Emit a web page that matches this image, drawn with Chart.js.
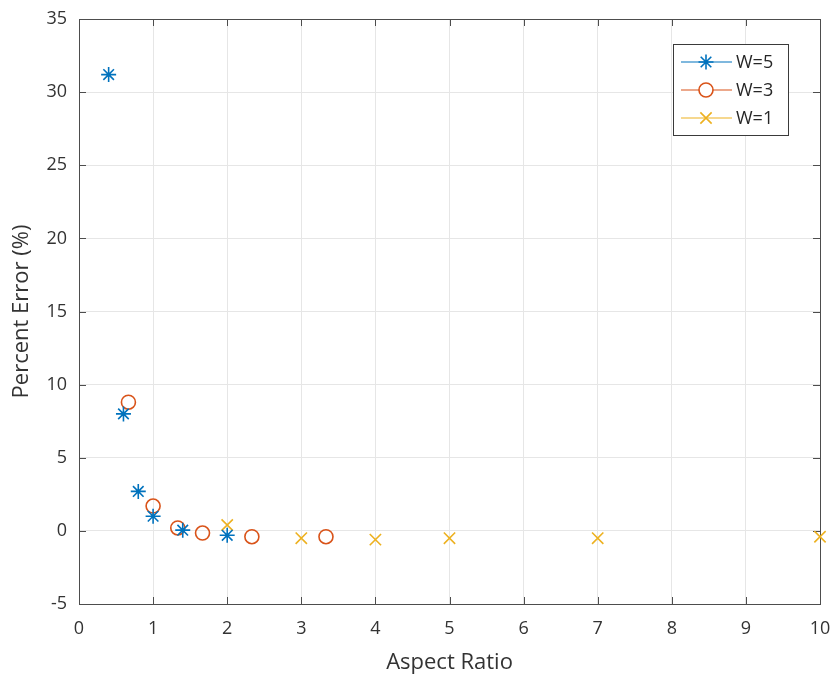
<!DOCTYPE html>
<html>
<head>
<meta charset="utf-8">
<script src="https://cdn.jsdelivr.net/npm/chart.js@4.4.1/dist/chart.umd.min.js"></script>
<style>
  html, body { margin: 0; padding: 0; background: #fff; }
  #wrap { width: 834px; height: 681px; }
</style>
</head>
<body>
<div id="wrap"><canvas id="chart"></canvas></div>
<script>
const aspectW5 = [0.4, 0.6, 0.8, 1.0, 1.4, 2.0];
const errorW5 = [31.2, 8.0, 2.7, 1.0, 0.05, -0.3];
const aspectW3 = [0.667, 1.0, 1.333, 1.667, 2.333, 3.333];
const errorW3 = [8.8, 1.7, 0.2, -0.15, -0.4, -0.4];
const aspectW1 = [2, 3, 4, 5, 7, 10];
const errorW1 = [0.4, -0.5, -0.6, -0.5, -0.5, -0.4];

const seriesNames = ["W=5", "W=3", "W=1"];
const colors = ["#0072BD", "#D95319", "#EDB120"];
const markers = ["star", "circle", "crossRot"];
const markerSizes = [7.5, 7, 8];

const toPoints = (xs, ys) => xs.map((x, i) => ({ x, y: ys[i] }));
const allData = [toPoints(aspectW5, errorW5), toPoints(aspectW3, errorW3), toPoints(aspectW1, errorW1)];

const axisColor = "#4d4d4d";
const tickFont = { family: "Open Sans", size: 18 };
const titleFont = { family: "Open Sans", size: 22 };

// box, inward ticks and legend drawn like a matlab figure
const matlabAxes = {
  id: "matlabAxes",
  beforeDatasetsDraw(chart) {
    const { ctx, chartArea: a, scales } = chart;
    ctx.save();
    ctx.strokeStyle = axisColor;
    ctx.lineWidth = 1;
    ctx.beginPath();
    scales.x.ticks.forEach(t => {
      const px = Math.round(scales.x.getPixelForValue(t.value)) + 0.5;
      ctx.moveTo(px, a.bottom); ctx.lineTo(px, a.bottom - 7);
      ctx.moveTo(px, a.top); ctx.lineTo(px, a.top + 7);
    });
    scales.y.ticks.forEach(t => {
      const py = Math.round(scales.y.getPixelForValue(t.value)) + 0.5;
      ctx.moveTo(a.left, py); ctx.lineTo(a.left + 7, py);
      ctx.moveTo(a.right, py); ctx.lineTo(a.right - 7, py);
    });
    ctx.stroke();
    ctx.strokeRect(Math.round(a.left) + 0.5, Math.round(a.top) + 0.5,
      Math.round(a.right - a.left), Math.round(a.bottom - a.top));
    ctx.restore();
  },
  afterDraw(chart) {
    const { ctx, chartArea: a } = chart;
    const bx = a.right - 147, by = a.top + 25, bw = 115, bh = 91;
    ctx.save();
    ctx.fillStyle = "#fff";
    ctx.fillRect(bx, by, bw, bh);
    ctx.strokeStyle = "#3a3a3a";
    ctx.lineWidth = 1;
    ctx.strokeRect(Math.round(bx) + 0.5, Math.round(by) + 0.5, bw, bh);
    ctx.font = "18px 'Open Sans'";
    ctx.textBaseline = "middle";
    seriesNames.forEach((name, i) => {
      const y = by + 18 + i * 28;
      ctx.strokeStyle = colors[i];
      ctx.lineWidth = 1.2;
      ctx.beginPath();
      ctx.moveTo(bx + 8, y); ctx.lineTo(bx + 59, y);
      ctx.stroke();
      ctx.fillStyle = "#fff";
      ctx.lineWidth = 1.6;
      Chart.helpers.drawPoint(ctx, { pointStyle: markers[i], radius: markerSizes[i], borderWidth: 1.6, rotation: 0 }, bx + 33, y);
      ctx.fillStyle = "#262626";
      ctx.fillText(name, bx + 63, y + 1);
    });
    ctx.restore();
  }
};

new Chart(document.getElementById("chart"), {
  type: "scatter",
  data: {
    datasets: allData.map((pts, i) => ({
      label: seriesNames[i],
      data: pts,
      pointStyle: markers[i],
      pointRadius: markerSizes[i],
      borderColor: colors[i],
      backgroundColor: "rgba(0,0,0,0)",
      borderWidth: 1.6,
      showLine: false,
      clip: false
    }))
  },
  options: {
    responsive: true,
    maintainAspectRatio: false,
    animation: false,
    layout: { padding: { top: 19, right: 14, left: 0, bottom: 0 } },
    plugins: { legend: { display: false }, tooltip: { enabled: false } },
    scales: {
      x: {
        type: "linear",
        min: 0, max: 10,
        ticks: { stepSize: 1, color: "#333", font: tickFont, padding: 14, maxRotation: 0 },
        grid: { color: "#e6e6e6", drawTicks: false },
        border: { display: false },
        title: { display: true, text: "Aspect Ratio", color: "#333", font: titleFont, padding: { bottom: 5 } },
        afterFit(scale) { scale.height = 77; scale.paddingLeft = 0; scale.paddingRight = 0; }
      },
      y: {
        type: "linear",
        min: -5, max: 35,
        ticks: { stepSize: 5, color: "#333", font: tickFont, padding: 12 },
        grid: { color: "#e6e6e6", drawTicks: false },
        border: { display: false },
        title: { display: true, text: "Percent Error (%)", color: "#333", font: titleFont, padding: { top: 9 } },
        afterFit(scale) { scale.width = 79; scale.paddingTop = 0; scale.paddingBottom = 0; }
      }
    }
  },
  plugins: [matlabAxes]
});
</script>
</body>
</html>
